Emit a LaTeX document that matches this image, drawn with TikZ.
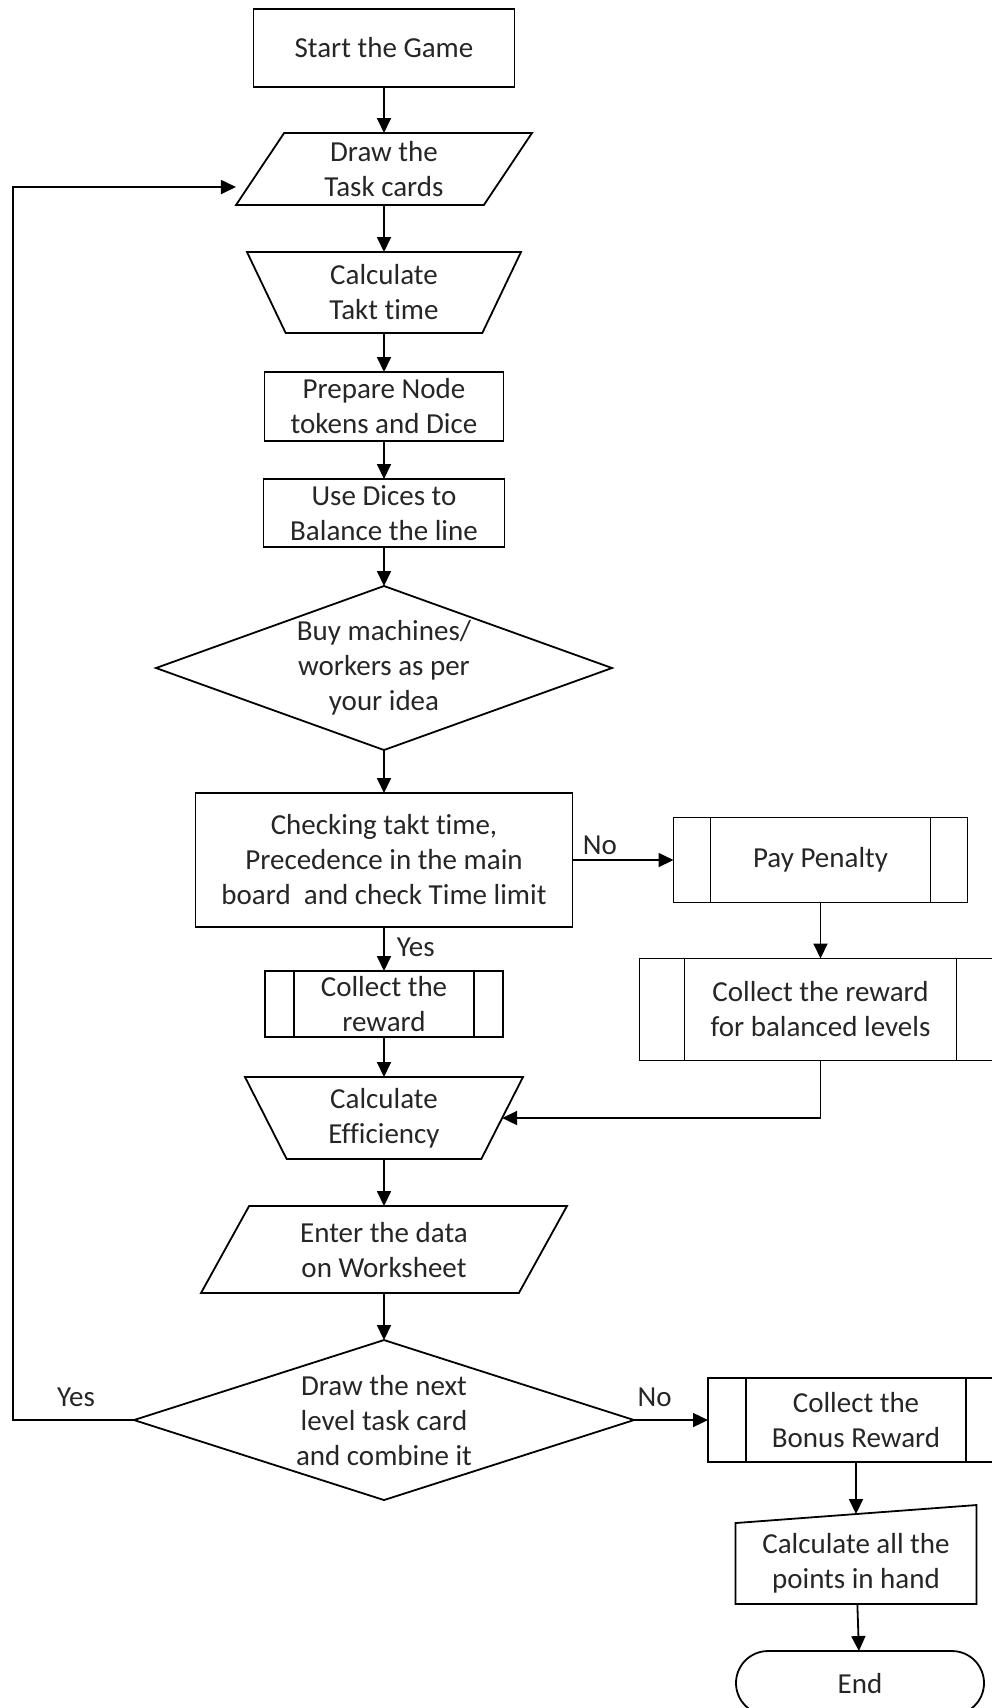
\documentclass[tikz,border=0pt]{standalone}
\usepackage{fontspec}
\setmainfont{Carlito}[Ligatures=CommonOff]
\usetikzlibrary{positioning, arrows.meta, calc, shapes.geometric, shapes.misc}

\begin{document}
\begin{tikzpicture}[
  x=1pt, y=-1pt,
  font=\fontsize{29}{35}\selectfont,
  >={Triangle[length=15pt, width=14pt]},
  line width=1.8pt,
  box/.style={draw, align=center, inner sep=1pt, outer sep=0pt, text=black!85},
  proc/.style={box, rectangle},
  subproc/.style={proc, path picture={
      \draw ([xshift=#1]path picture bounding box.north west) -- ([xshift=#1]path picture bounding box.south west)
            ([xshift=-#1]path picture bounding box.north east) -- ([xshift=-#1]path picture bounding box.south east);}},
  inout/.style={box, trapezium, trapezium left angle=50, trapezium right angle=130, trapezium stretches body},
  manop/.style={box, trapezium, trapezium left angle=124, trapezium right angle=124, trapezium stretches body},
  decision/.style={draw, diamond, inner sep=0pt, outer sep=0pt},
  dtext/.style={align=center, text=black!85},
  term/.style={box, rounded rectangle},
  flow/.style={->},
  lbl/.style={inner sep=2pt, text=black!85},
]
\useasboundingbox (0,0) rectangle (992,1708);

% ================= main column =================
\node[proc, minimum width=261pt, minimum height=78pt] (start) at (384,48) {Start the Game};
\node[inout, minimum width=296pt, minimum height=72pt, below=46pt of start] (cards) {Draw the\\Task cards};
\node[manop, minimum width=274pt, minimum height=81pt, below=47pt of cards] (takt) {Calculate\\Takt time};
\node[proc, minimum width=239pt, minimum height=69pt, below=39pt of takt] (tokens) {Prepare Node\\tokens and Dice};
\node[proc, minimum width=241pt, minimum height=68pt, below=38pt of tokens] (dices) {Use Dices to\\Balance the line};
\node[decision, minimum width=456pt, minimum height=164pt, below=39pt of dices] (buy) {};
\node[dtext] (buytxt) at (buy) {Buy machines/\\workers as per\\your idea};
\node[proc, minimum width=377pt, minimum height=134pt, below=43pt of buy] (check)
  {Checking takt time,\\Precedence in the main\\board\ \ and check Time limit};
\node[subproc=29pt, minimum width=238pt, minimum height=66pt, below=44pt of check] (reward) {Collect the\\reward};
\node[manop, minimum width=278pt, minimum height=82pt, below=40pt of reward] (eff) {Calculate\\Efficiency};
\node[inout, minimum width=366pt, minimum height=87pt, below=47pt of eff] (worksheet) {Enter the data\\on Worksheet};
\node[decision, minimum width=500pt, minimum height=160pt, below=47pt of worksheet] (next) {};
\node[dtext] (nexttxt) at (next) {Draw the next\\level task card\\and combine it};

% ================= right branch =================
\node[subproc=37pt, minimum width=294pt, minimum height=85pt, right=101pt of check] (penalty) {Pay Penalty};
\node[subproc=45pt, minimum width=362pt, minimum height=102pt, below=56pt of penalty] (balanced)
  {Collect the reward\\for balanced levels};
\node[subproc=38pt, minimum width=296pt, minimum height=84pt, right=74pt of next] (bonus) {Collect the\\Bonus Reward};
\node[box, draw=none, minimum width=241pt, minimum height=81pt, below=61pt of bonus] (points) {Calculate all the\\points in hand};
\draw (points.south west) -- (points.south east) -- ([yshift=18pt]points.north east) -- (points.north west) -- cycle;
\coordinate (pointsin) at ($(points.north west)!0.5!([yshift=18pt]points.north east)$);
\node[term, minimum width=250pt, minimum height=64pt, below=47pt of points, xshift=4pt] (end) {End};

% ================= connectors =================
\draw[flow] (start) -- (cards);
\draw[flow] (cards) -- (takt);
\draw[flow] (takt) -- (tokens);
\draw[flow] (tokens) -- (dices);
\draw[flow] (dices) -- (buy);
\draw[flow] (buy) -- (check);
\draw[flow] (check) -- node[lbl, right=10pt, pos=0.45] {Yes} (reward);
\draw[flow] (reward) -- (eff);
\draw[flow] (eff) -- (worksheet);
\draw[flow] (worksheet) -- (next);

\draw[flow] (check) -- node[lbl, above=2pt, pos=0.27] {No} (penalty);
\draw[flow] (penalty) -- (balanced);
\draw[flow] (balanced) |- (eff.east);

\draw[flow] (next) -- node[lbl, above=10pt, pos=0.28] {No} (bonus);
\draw[flow] (bonus) -- (pointsin);
\draw[flow] (points) -- (end);

% back to the task cards
\coordinate (loopin) at ([yshift=18pt]cards.bottom left corner);
\draw[flow] (next.west) -- node[lbl, above=10pt, pos=0.48] {Yes} ++(-121,0) |- (loopin);

\end{tikzpicture}
\end{document}
